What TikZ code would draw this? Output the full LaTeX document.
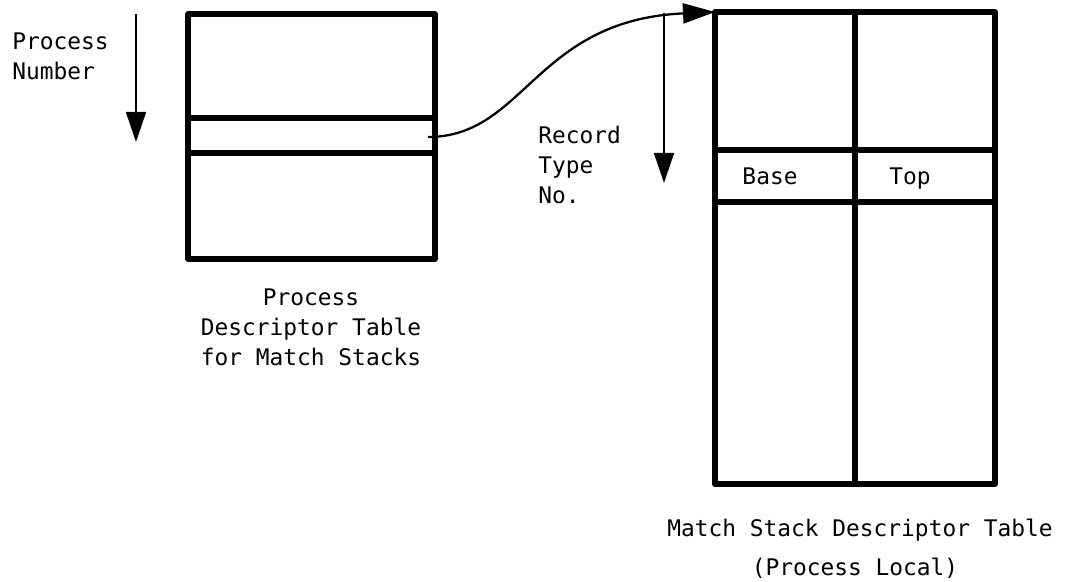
\documentclass[tikz,border=0pt]{standalone}
\usepackage{fontspec}
\setmainfont{DejaVu Sans Mono}
\usetikzlibrary{arrows.meta, positioning, calc}

\begin{document}
\begin{tikzpicture}[
  tableline/.style={
    draw=black, line width=3pt, line cap=round, line join=round
  },
  indexarrow/.style={
    draw=black, line width=0.9pt,
    -{Triangle[length=6mm, width=4mm]}
  },
  linkarrow/.style={
    draw=black, line width=1.3pt,
    -{Triangle[length=6.4mm, width=4mm]}
  },
  label/.style={
    font=\fontsize{13}{17}\selectfont, inner sep=0pt
  },
]

\useasboundingbox (0,0) rectangle (21.44,-11.64);

%% ================================================================
%% LEFT: Process Descriptor Table
%% ================================================================

% Index arrow
\coordinate (pnum-top) at (2.72,-0.28);
\coordinate (pnum-bot) at (2.72,-2.84);
\draw[indexarrow] (pnum-top) -- (pnum-bot);
\node[label, align=left, anchor=west] (pnum) at (0.24,-1.12)
  {Process\\Number};

% Table frame and slot
\draw[tableline] (3.76,-0.28) rectangle (8.70,-5.18);
\draw[tableline] (3.76,-2.36) -- (8.70,-2.36);
\draw[tableline] (3.76,-3.06) -- (8.70,-3.06);
\coordinate (slot) at (8.56,-2.74);

% Caption
\node[label, align=center] (pdt) at (6.22,-6.54)
  {Process\\Descriptor Table\\for Match Stacks};

%% ================================================================
%% RIGHT: Match Stack Descriptor Table
%% ================================================================

% Index arrow
\coordinate (rtype-top) at (13.28,-0.26);
\coordinate (rtype-bot) at (13.28,-3.66);
\draw[indexarrow] (rtype-top) -- (rtype-bot);
\node[label, align=left, anchor=west] (rtype) at (10.76,-3.30)
  {Record\\Type\\No.};

% Table frame, column divider, entry row
\draw[tableline] (14.30,-0.24) rectangle (19.90,-9.68);
\draw[tableline] (17.10,-0.24) -- (17.10,-9.68);
\draw[tableline] (14.30,-3.00) -- (19.90,-3.00);
\draw[tableline] (14.30,-4.04) -- (19.90,-4.04);
\coordinate (msdt-nw) at (14.30,-0.24);

\node[label, anchor=base] (base) at (15.40,-3.70) {Base};
\node[label, anchor=base] (top)  at (18.20,-3.70) {Top};

% Caption
\node[label] (msdt)  at (17.20,-10.60) {Match Stack Descriptor Table};
\node[label] (local) at (17.10,-11.36) {(Process Local)};

%% ================================================================
%% LINK: slot -> table
%% ================================================================
\draw[linkarrow] (slot) .. controls (10.5,-2.74) and (10.7,-0.40) .. (msdt-nw);

\end{tikzpicture}
\end{document}
